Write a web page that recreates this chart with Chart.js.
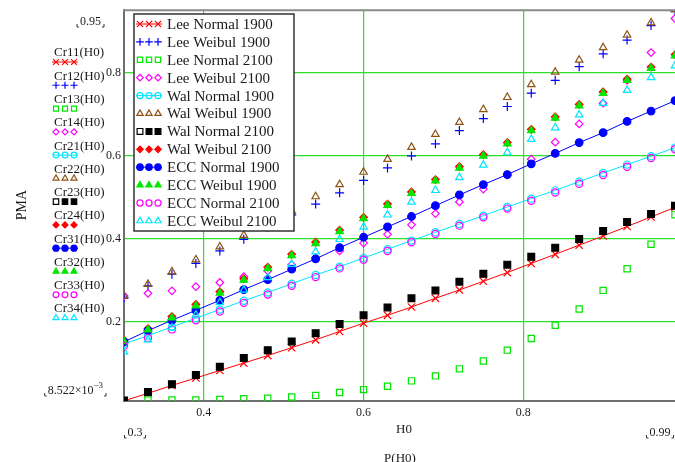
<!DOCTYPE html>
<html>
<head>
<meta charset="utf-8">
<title>PMA vs H0</title>
<script src="https://cdn.jsdelivr.net/npm/chart.js"></script>
<style>
  html, body { margin: 0; padding: 0; background: #fff; }
  #wrap { position: relative; width: 675px; height: 462px; }
</style>
</head>
<body>
<div id="wrap"><canvas id="pmaChart" width="675" height="462"></canvas></div>
<script>
// ========== DATA ==========
const h0 = [0.30, 0.33, 0.36, 0.39, 0.42, 0.45, 0.48, 0.51, 0.54, 0.57, 0.60, 0.63,
            0.66, 0.69, 0.72, 0.75, 0.78, 0.81, 0.84, 0.87, 0.90, 0.93, 0.96, 0.99];

const leeNormal1900 = [0.009, 0.027, 0.046, 0.064, 0.082, 0.100, 0.118, 0.137, 0.156, 0.176, 0.196, 0.215,
                       0.235, 0.256, 0.276, 0.297, 0.318, 0.340, 0.362, 0.384, 0.406, 0.429, 0.452, 0.475];
const leeWeibul1900 = [0.258, 0.286, 0.314, 0.340, 0.370, 0.398, 0.427, 0.457, 0.483, 0.510, 0.540, 0.570,
                       0.599, 0.628, 0.660, 0.689, 0.718, 0.750, 0.781, 0.814, 0.845, 0.878, 0.913, 0.948];
const leeNormal2100 = [0.010, 0.011, 0.011, 0.011, 0.012, 0.014, 0.015, 0.018, 0.022, 0.029, 0.036, 0.044,
                       0.057, 0.069, 0.086, 0.105, 0.131, 0.159, 0.191, 0.230, 0.275, 0.327, 0.386, 0.457];
const leeWeibul2100 = [0.262, 0.268, 0.274, 0.284, 0.294, 0.308, 0.322, 0.337, 0.353, 0.370, 0.389, 0.410,
                       0.433, 0.460, 0.488, 0.519, 0.553, 0.591, 0.632, 0.676, 0.726, 0.781, 0.848, 0.930];
const walNormal1900 = [0.146, 0.166, 0.187, 0.208, 0.229, 0.250, 0.270, 0.291, 0.312, 0.332, 0.353, 0.374,
                       0.395, 0.415, 0.435, 0.455, 0.476, 0.496, 0.516, 0.537, 0.558, 0.578, 0.598, 0.619];
const walWeibul1900 = [0.261, 0.290, 0.320, 0.349, 0.380, 0.408, 0.437, 0.466, 0.501, 0.530, 0.560, 0.591,
                       0.620, 0.651, 0.680, 0.711, 0.740, 0.771, 0.801, 0.830, 0.860, 0.890, 0.920, 0.951];
const walNormal2100 = [0.010, 0.030, 0.049, 0.071, 0.091, 0.112, 0.131, 0.152, 0.172, 0.194, 0.215, 0.234,
                       0.256, 0.275, 0.296, 0.315, 0.337, 0.356, 0.378, 0.399, 0.418, 0.440, 0.459, 0.479];
const walWeibul2100 = [0.155, 0.183, 0.212, 0.241, 0.272, 0.303, 0.331, 0.362, 0.391, 0.420, 0.451, 0.483,
                       0.512, 0.542, 0.573, 0.602, 0.631, 0.663, 0.693, 0.723, 0.753, 0.784, 0.813, 0.843];
const eccNormal1900 = [0.151, 0.178, 0.203, 0.227, 0.251, 0.277, 0.301, 0.326, 0.351, 0.378, 0.403, 0.428,
                       0.453, 0.479, 0.505, 0.530, 0.554, 0.580, 0.605, 0.631, 0.655, 0.682, 0.707, 0.732];
const eccWeibul1900 = [0.152, 0.180, 0.209, 0.238, 0.269, 0.300, 0.328, 0.359, 0.388, 0.417, 0.448, 0.480,
                       0.509, 0.539, 0.570, 0.599, 0.628, 0.660, 0.690, 0.720, 0.750, 0.781, 0.810, 0.840];
const eccNormal2100 = [0.141, 0.160, 0.181, 0.203, 0.224, 0.245, 0.265, 0.286, 0.307, 0.328, 0.349, 0.370,
                       0.391, 0.411, 0.431, 0.451, 0.472, 0.491, 0.511, 0.532, 0.553, 0.573, 0.594, 0.615];
const eccWeibul2100 = [0.127, 0.156, 0.185, 0.216, 0.246, 0.276, 0.306, 0.338, 0.368, 0.398, 0.428, 0.457,
                       0.488, 0.516, 0.547, 0.577, 0.607, 0.639, 0.667, 0.698, 0.726, 0.757, 0.788, 0.816];

const seriesNames = ["Lee Normal 1900", "Lee Weibul 1900", "Lee Normal 2100", "Lee Weibul 2100",
                     "Wal Normal 1900", "Wal Weibul 1900", "Wal Normal 2100", "Wal Weibul 2100",
                     "ECC Normal 1900", "ECC Weibul 1900", "ECC Normal 2100", "ECC Weibul 2100"];
const traceNames = ["Cr11(H0)", "Cr12(H0)", "Cr13(H0)", "Cr14(H0)", "Cr21(H0)", "Cr22(H0)",
                    "Cr23(H0)", "Cr24(H0)", "Cr31(H0)", "Cr32(H0)", "Cr33(H0)", "Cr34(H0)"];
const seriesValues = [leeNormal1900, leeWeibul1900, leeNormal2100, leeWeibul2100,
                      walNormal1900, walWeibul1900, walNormal2100, walWeibul2100,
                      eccNormal1900, eccWeibul1900, eccNormal2100, eccWeibul2100];

const xTicks = [0.4, 0.6, 0.8];
const yTicks = [0.2, 0.4, 0.6, 0.8];
const xMin = 0.3, xMax = 0.99;
const yMin = 0.008522, yMax = 0.95;
const xTitle = "H0";
const xSubTitle = "P(H0)";
const yTitle = "PMA";

// ========== STYLES ==========
const RED = "#ff0000", BLUE = "#0000ff", GREEN = "#00e600", MAGENTA = "#ff00ff",
      CYAN = "#00e5ff", BROWN = "#8f5214", BLACK = "#000000";
const styles = [
    { color: RED,     shape: "crossRot", r: 5.2, filled: false, line: true },
    { color: BLUE,    shape: "cross",    r: 4.5, filled: false, line: false },
    { color: GREEN,   shape: "rect",     r: 4.4, filled: false, line: false },
    { color: MAGENTA, shape: "rectRot",  r: 3.8, filled: false, line: false },
    { color: CYAN,    shape: "circle",   r: 3.6, filled: false, line: true },
    { color: BROWN,   shape: "triangle", r: 4.3, filled: false, line: false },
    { color: BLACK,   shape: "rect",     r: 4.8, filled: true,  line: false, firstHollow: true },
    { color: RED,     shape: "rectRot",  r: 3.8, filled: true,  line: false },
    { color: BLUE,    shape: "circle",   r: 3.8, filled: true,  line: true },
    { color: GREEN,   shape: "triangle", r: 4.3, filled: true,  line: false },
    { color: MAGENTA, shape: "circle",   r: 3.6, filled: false, line: false },
    { color: CYAN,    shape: "triangle", r: 4.3, filled: false, line: false }
];

const SERIF = '"Liberation Serif", "Times New Roman", serif';
const GRID = "#2ee02e";
const TEXT = "#1a1a1a";

// ========== DATASETS ==========
const datasets = seriesValues.map((vals, i) => {
    const s = styles[i];
    return {
        label: seriesNames[i],
        data: h0.map((x, k) => ({ x: x, y: vals[k] })),
        showLine: s.line,
        tension: 0,
        borderColor: s.color,
        borderWidth: 1,
        backgroundColor: s.filled ? s.color : "rgba(0,0,0,0)",
        pointStyle: s.shape,
        pointRadius: s.r,
        pointHoverRadius: s.r,
        pointBorderWidth: 1.2,
        pointBorderColor: s.color,
        pointBackgroundColor: s.filled ? s.color : "rgba(0,0,0,0)",
        clip: 0,
        order: seriesValues.length - i   // later traces on top, like the original
    };
});

// ========== DECORATION (Mathcad-style labels & legends) ==========
function marker(ctx, s, x, y, r, hollow) {
    ctx.save();
    ctx.strokeStyle = s.color;
    ctx.fillStyle = (s.filled && !hollow) ? s.color : "rgba(0,0,0,0)";
    ctx.lineWidth = 1.2;
    Chart.helpers.drawPoint(ctx, { pointStyle: s.shape, radius: r, rotation: 0, borderWidth: 1.2 }, x, y);
    ctx.restore();
}

function markerRow(ctx, s, xs, y, scale) {
    if (s.line) {
        ctx.save();
        ctx.strokeStyle = s.color;
        ctx.lineWidth = 1;
        ctx.beginPath();
        ctx.moveTo(xs[0] - 4, y);
        ctx.lineTo(xs[xs.length - 1] + 4, y);
        ctx.stroke();
        ctx.restore();
    }
    xs.forEach((x, k) => marker(ctx, s, x, y, s.r * scale, s.firstHollow && k === 0));
}

function limitLabel(ctx, parts, x, y, align) {
    // parts: [[text, fontSize, dy], ...]
    let w = 0;
    parts.forEach(p => { ctx.font = p[1] + "px " + SERIF; w += ctx.measureText(p[0]).width; });
    let left = align === "center" ? x - w / 2 : (align === "right" ? x - w : x);
    let cx = left;
    ctx.textAlign = "left";
    ctx.textBaseline = "middle";
    ctx.fillStyle = TEXT;
    parts.forEach(p => {
        ctx.font = p[1] + "px " + SERIF;
        ctx.fillText(p[0], cx, y + p[2]);
        cx += ctx.measureText(p[0]).width;
    });
    // little corner marks either side
    ctx.strokeStyle = "#333";
    ctx.lineWidth = 1;
    ctx.beginPath();
    ctx.moveTo(left - 3, y + 2); ctx.lineTo(left - 3, y + 5); ctx.lineTo(left - 1, y + 5);
    ctx.moveTo(left + w + 3, y + 2); ctx.lineTo(left + w + 3, y + 5); ctx.lineTo(left + w + 1, y + 5);
    ctx.stroke();
}

const decorPlugin = {
    id: "mathcadDecor",
    afterDraw(chart) {
        const ctx = chart.ctx;
        const area = chart.chartArea;
        ctx.save();

        // top frame line
        ctx.strokeStyle = "#8a8a8a";
        ctx.lineWidth = 2;
        ctx.beginPath();
        ctx.moveTo(area.left - 1, area.top);
        ctx.lineTo(area.right, area.top);
        ctx.stroke();

        // axis limit labels
        limitLabel(ctx, [["0.95", 12, 0]], 101, 22, "right");
        limitLabel(ctx, [["8.522\u00d710", 12, 0], ["\u22123", 9, -5]], 103, 391, "right");
        limitLabel(ctx, [["0.3", 12, 0]], 135, 433, "center");
        limitLabel(ctx, [["0.99", 12, 0]], 660, 433, "center");

        // axis titles
        ctx.fillStyle = TEXT;
        ctx.textAlign = "center";
        ctx.textBaseline = "middle";
        ctx.font = "13px " + SERIF;
        ctx.fillText(xTitle, 404, 430);
        ctx.fillText(xSubTitle, 400, 459);
        ctx.save();
        ctx.translate(22, 205);
        ctx.rotate(-Math.PI / 2);
        ctx.font = "14px " + SERIF;
        ctx.fillText(yTitle, 0, 0);
        ctx.restore();

        // trace names down the left side
        traceNames.forEach((name, i) => {
            const y = 53 + i * 23.27;
            ctx.fillStyle = TEXT;
            ctx.textAlign = "left";
            ctx.textBaseline = "middle";
            ctx.font = "13px " + SERIF;
            ctx.fillText(name, 54, y);
            markerRow(ctx, styles[i], [56, 65, 74], y + 9, 0.8);
        });

        // legend box
        const bx = 134, by = 14, bw = 160, bh = 217;
        ctx.fillStyle = "#fff";
        ctx.fillRect(bx, by, bw, bh);
        ctx.strokeStyle = "#333";
        ctx.lineWidth = 1.5;
        ctx.strokeRect(bx, by, bw, bh);
        seriesNames.forEach((name, i) => {
            const y = 24 + i * 17.9;
            markerRow(ctx, styles[i], [140, 149, 158], y, 0.85);
            ctx.fillStyle = TEXT;
            ctx.textAlign = "left";
            ctx.textBaseline = "middle";
            ctx.font = "15px " + SERIF;
            ctx.fillText(name, 167, y + 1);
        });

        ctx.restore();
    }
};

// ========== CHART ==========
const chartCtx = document.getElementById("pmaChart").getContext("2d");
new Chart(chartCtx, {
    type: "scatter",
    data: { datasets: datasets },
    options: {
        responsive: false,
        animation: false,
        devicePixelRatio: 1,
        events: [],
        layout: { autoPadding: false, padding: { top: 7, left: 0, right: 0, bottom: 0 } },
        plugins: {
            legend: { display: false },
            tooltip: { enabled: false }
        },
        scales: {
            x: {
                type: "linear",
                min: xMin,
                max: xMax,
                afterBuildTicks: scale => { scale.ticks = xTicks.map(v => ({ value: v })); },
                afterFit: scale => { scale.height = 61; },
                grid: { color: GRID, lineWidth: 1.2, drawTicks: false },
                border: { display: true, color: "#6e6e6e", width: 2 },
                ticks: {
                    padding: 5,
                    color: TEXT,
                    font: { family: SERIF, size: 12 },
                    maxRotation: 0,
                    callback: v => v.toFixed(1)
                }
            },
            y: {
                type: "linear",
                min: yMin,
                max: yMax,
                afterBuildTicks: scale => { scale.ticks = yTicks.map(v => ({ value: v })); },
                afterFit: scale => { scale.width = 124; },
                grid: { color: GRID, lineWidth: 1.2, drawTicks: false },
                border: { display: true, color: "#6e6e6e", width: 2 },
                ticks: {
                    padding: 3,
                    color: TEXT,
                    font: { family: SERIF, size: 12 },
                    callback: v => v.toFixed(1)
                }
            }
        }
    },
    plugins: [decorPlugin]
});
</script>
</body>
</html>
